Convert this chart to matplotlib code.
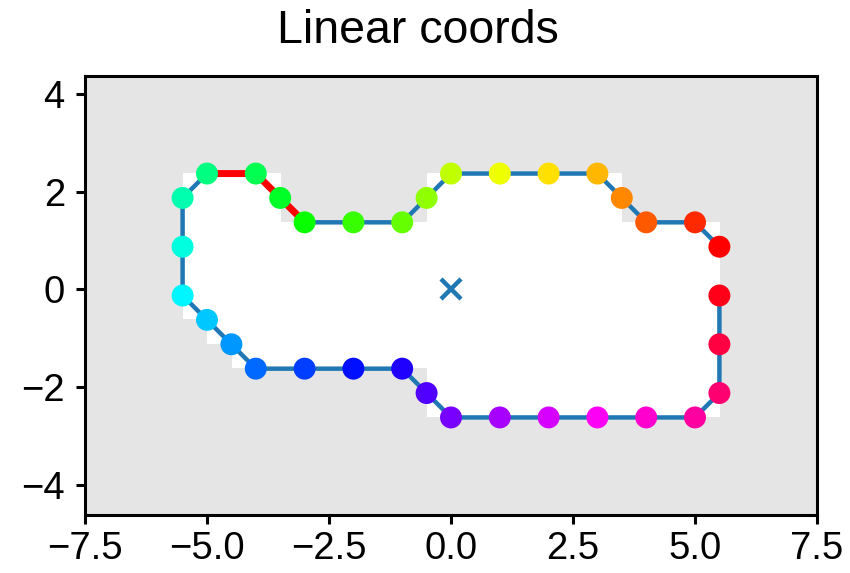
"""Linear coords: contour points around a blocky mask, coloured by position along the path."""
import matplotlib
matplotlib.use("Agg")
import matplotlib.pyplot as plt
import numpy as np
from matplotlib.colors import ListedColormap

plt.rcParams["font.family"] = ["Liberation Sans", "DejaVu Sans"]

# contour points, in path order (start at right edge, run counter-clockwise)
xs = [5.5, 5.0, 4.0, 3.5, 3.0, 2.0, 1.0, 0.0, -0.5, -1.0, -2.0, -3.0, -3.5, -4.0, -5.0, -5.5, -5.5,
      -5.5, -5.0, -4.5, -4.0, -3.0, -2.0, -1.0, -0.5, 0.0, 1.0, 2.0, 3.0, 4.0, 5.0, 5.5, 5.5, 5.5]
ys = [0.875, 1.375, 1.375, 1.875, 2.375, 2.375, 2.375, 2.375, 1.875, 1.375, 1.375, 1.375, 1.875, 2.375, 2.375,
      1.875, 0.875, -0.125, -0.625, -1.125, -1.625, -1.625, -1.625, -1.625, -2.125, -2.625, -2.625, -2.625,
      -2.625, -2.625, -2.625, -2.125, -1.125, -0.125]
highlight = slice(11, 15)   # segment drawn in red
centre = (0.0, 0.0)

# binary mask (0.5 cells), top row first, x from -5.5 to 5.5, y from 2.375 down to -2.625
mask = np.array([
    [1, 1, 1, 1, 0, 0, 0, 0, 0, 0, 1, 1, 1, 1, 1, 1, 1, 1, 0, 0, 0, 0],
    [1, 1, 1, 1, 0, 0, 0, 0, 0, 0, 1, 1, 1, 1, 1, 1, 1, 1, 0, 0, 0, 0],
    [1, 1, 1, 1, 1, 1, 1, 1, 1, 1, 1, 1, 1, 1, 1, 1, 1, 1, 1, 1, 1, 1],
    [1, 1, 1, 1, 1, 1, 1, 1, 1, 1, 1, 1, 1, 1, 1, 1, 1, 1, 1, 1, 1, 1],
    [1, 1, 1, 1, 1, 1, 1, 1, 1, 1, 1, 1, 1, 1, 1, 1, 1, 1, 1, 1, 1, 1],
    [1, 1, 1, 1, 1, 1, 1, 1, 1, 1, 1, 1, 1, 1, 1, 1, 1, 1, 1, 1, 1, 1],
    [0, 1, 1, 1, 1, 1, 1, 1, 1, 1, 1, 1, 1, 1, 1, 1, 1, 1, 1, 1, 1, 1],
    [0, 0, 1, 1, 1, 1, 1, 1, 1, 1, 1, 1, 1, 1, 1, 1, 1, 1, 1, 1, 1, 1],
    [0, 0, 0, 0, 0, 0, 0, 0, 0, 0, 1, 1, 1, 1, 1, 1, 1, 1, 1, 1, 1, 1],
    [0, 0, 0, 0, 0, 0, 0, 0, 0, 0, 1, 1, 1, 1, 1, 1, 1, 1, 1, 1, 1, 1],
])
mask_extent = (-5.5, 5.5, -2.625, 2.375)

bg = "#e5e5e5"
fig = plt.figure(figsize=(8.5, 5.73), dpi=100)
ax = fig.add_axes([85 / 850, 1 - 515 / 573, 732 / 850, 439 / 573])
ax.set_facecolor(bg)
ax.imshow(mask, extent=mask_extent, cmap=ListedColormap([bg, "white"]), vmin=0, vmax=1,
          interpolation="nearest", aspect="auto", zorder=0)

ax.plot(xs, ys, color="C0", lw=3.2, zorder=2)
ax.plot(xs[highlight], ys[highlight], color="red", lw=5, zorder=3)
colors = plt.cm.hsv(np.linspace(0, 1, len(xs)))
ax.scatter(xs, ys, c=colors, s=250, linewidths=0, zorder=4)
ax.plot(*centre, marker="x", color="C0", ms=15, mew=3.2, zorder=5)

ax.set_xlim(-7.5, 7.5)
ax.set_ylim(-4.625, 4.375)
ax.set_xticks(np.arange(-7.5, 7.6, 2.5))
ax.set_yticks([-4, -2, 0, 2, 4])
ax.tick_params(labelsize=27.5, length=6.5, width=2.2)
ax.tick_params(axis="x", pad=5)
ax.tick_params(axis="y", pad=8)
for s in ax.spines.values():
    s.set_linewidth(2.2)

fig.text(418 / 850, 1 - 43 / 573, "Linear coords", ha="center", va="baseline", fontsize=33.5)

fig.savefig("out.png", dpi=100)
